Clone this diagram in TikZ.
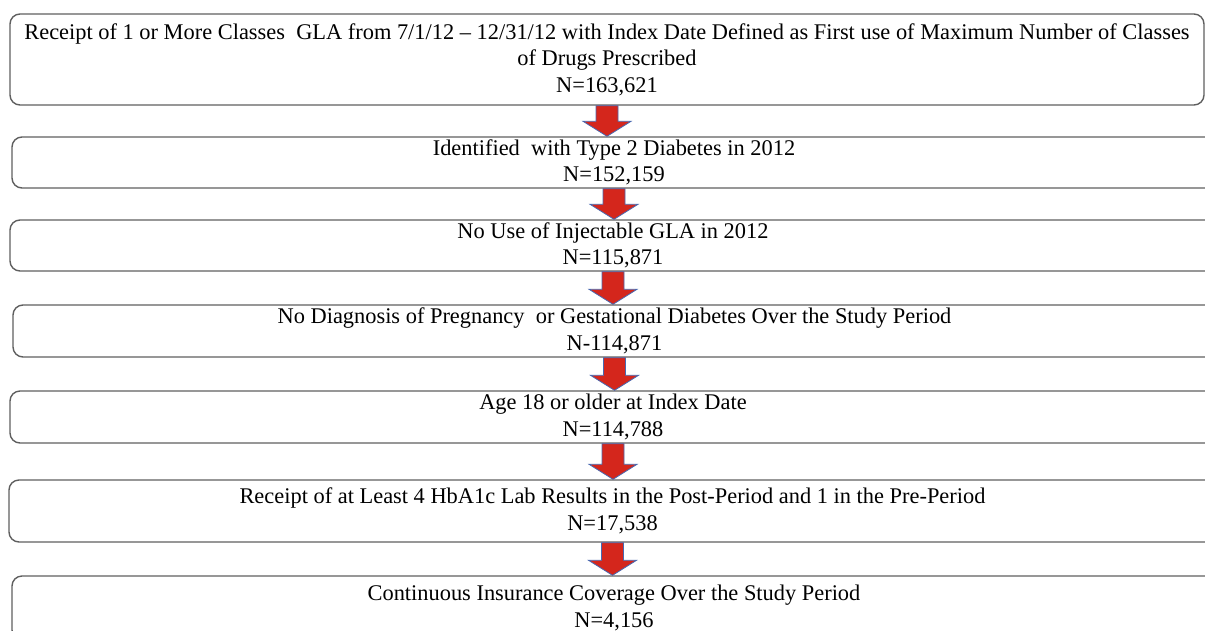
\documentclass[tikz,border=0pt]{standalone}
\usepackage{fontspec}
\setmainfont{Liberation Serif}
\usetikzlibrary{calc}
\definecolor{flowgray}{RGB}{95,95,95}
\definecolor{flowred}{RGB}{212,38,28}
\definecolor{flowblue}{RGB}{72,104,176}

\begin{document}
\begin{tikzpicture}[x=1pt, y=-1pt,
		stage/.style={draw=flowgray, line width=1.4pt, rounded corners=10pt, align=center, inner sep=0pt,
			font=\fontsize{22.4}{26.5}\selectfont},
		downarrow/.style={fill=flowred, draw=flowblue, line width=0.8pt, line join=miter}]
	\useasboundingbox (0,0) rectangle (1205,630);
	\clip (0,0) rectangle (1205,630);
	\node[stage, minimum width=1194pt, minimum height=91pt] (s1) at (607,59.5)
		{Receipt of 1 or More Classes\ \ GLA from 7/1/12 -- 12/31/12 with Index Date Defined as First use of Maximum Number of Classes\\
		of Drugs Prescribed\\ N=163,621};
	\node[stage, minimum width=1204pt, minimum height=51pt] (s2) at (614,162.5)
		{Identified\ \ with Type 2 Diabetes in 2012\\ N=152,159};
	\node[stage, minimum width=1206pt, minimum height=51pt] (s3) at (613,245.5)
		{No Use of Injectable GLA in 2012\\ N=115,871};
	\node[stage, minimum width=1203pt, minimum height=52pt] (s4) at (614.5,331)
		{No Diagnosis of Pregnancy\ \ or Gestational Diabetes Over the Study Period\\ N-114,871};
	\node[stage, minimum width=1206pt, minimum height=52pt] (s5) at (613,417)
		{Age 18 or older at Index Date\\ N=114,788};
	\node[stage, minimum width=1207pt, minimum height=62pt] (s6) at (612.5,511)
		{Receipt of at Least 4 HbA1c Lab Results in the Post-Period and 1 in the Pre-Period\\ N=17,538};
	\node[stage, minimum width=1204pt, minimum height=64pt] (s7) at (614,608)
		{Continuous Insurance Coverage Over the Study Period\\ N=4,156};
	\foreach \a/\b in {s1/s2,s2/s3,s3/s4,s4/s5,s5/s6,s6/s7}
		\draw[downarrow] let \p1=(\a.south), \p2=(\b.north) in
			(\x1-11pt,\y1) -- (\x1+11pt,\y1) -- (\x1+11pt,\y2+15pt) -- (\x1+24pt,\y2+15pt)
			-- (\x1,\y2) -- (\x1-24pt,\y2+15pt) -- (\x1-11pt,\y2+15pt) -- cycle;
\end{tikzpicture}
\end{document}
